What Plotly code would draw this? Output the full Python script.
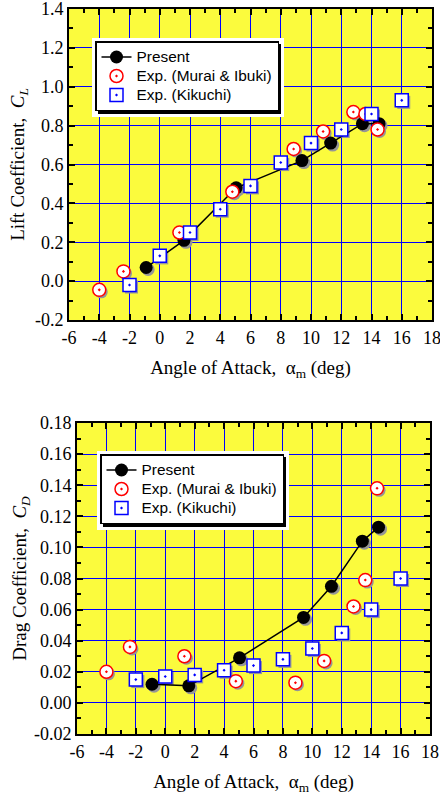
import plotly.graph_objects as go

# ---------------- data ----------------
aoa_present = [-0.9, 1.6, 5.05, 9.4, 11.3, 13.4, 14.5]
cl_present = [0.07, 0.21, 0.48, 0.62, 0.71, 0.81, 0.81]
cd_present = [0.012, 0.011, 0.029, 0.055, 0.075, 0.104, 0.113]

aoa_murai = [-4.0, -2.4, 1.3, 4.8, 8.85, 10.8, 12.8, 13.6, 14.4]
cl_murai = [-0.045, 0.05, 0.25, 0.46, 0.68, 0.77, 0.87, 0.86, 0.78]
cd_murai = [0.020, 0.036, 0.030, 0.014, 0.013, 0.027, 0.062, 0.079, 0.138]

aoa_kikuchi = [-2, 0, 2, 4, 6, 8, 10, 12, 14, 16]
cl_kikuchi = [-0.02, 0.13, 0.25, 0.37, 0.49, 0.61, 0.71, 0.78, 0.86, 0.93]
cd_kikuchi = [0.015, 0.017, 0.018, 0.021, 0.024, 0.028, 0.035, 0.045, 0.060, 0.080]

names = ["Present", "Exp. (Murai & Ibuki)", "Exp. (Kikuchi)"]

x_tickvals = [-6, -4, -2, 0, 2, 4, 6, 8, 10, 12, 14, 16, 18]
x_ticktext = ["-6", "-4", "-2", "0", "2", "4", "6", "8", "10", "12", "14", "16", "18"]
cl_tickvals = [-0.2, 0.0, 0.2, 0.4, 0.6, 0.8, 1.0, 1.2, 1.4]
cl_ticktext = ["-0.2", "0.0", "0.2", "0.4", "0.6", "0.8", "1.0", "1.2", "1.4"]
cd_tickvals = [-0.02, 0.0, 0.02, 0.04, 0.06, 0.08, 0.10, 0.12, 0.14, 0.16, 0.18]
cd_ticktext = ["-0.02", "0.00", "0.02", "0.04", "0.06", "0.08", "0.10",
               "0.12", "0.14", "0.16", "0.18"]

# ---------------- style ----------------
W, H = 440, 795
YELLOW = "#FBFB3D"
BLUE = "#0000FF"
SHADOW = "rgb(150,150,150)"
SERIF = "Liberation Serif, Times New Roman, serif"
SANS = "Liberation Sans, Arial, sans-serif"
SHIFT = 2  # px offset of marker drop shadows


def px(x):
    return x / W


def py(y):
    return 1 - y / H


def legend_label(s):
    return '<span style="font-size:15.4px">' + s.replace("&", "&amp;") + "</span>"


marker_styles = [
    dict(symbol="circle", size=13, color="black"),
    dict(symbol="circle-dot", size=13, color="white", line=dict(color="red", width=1.5)),
    dict(symbol="square-dot", size=13, color="white", line=dict(color=BLUE, width=1.5)),
]

fig = go.Figure()

# panels: shadow axes (main), visible axes (overlay), legend, data
panels = [
    ("x", "y", "x3", "y3", "legend", [cl_present, cl_murai, cl_kikuchi]),
    ("x2", "y2", "x4", "y4", "legend2", [cd_present, cd_murai, cd_kikuchi]),
]
xs = [aoa_present, aoa_murai, aoa_kikuchi]

for sx, sy, vx, vy, lg, ys in panels:
    # drop shadows (drawn on the underlying, offset axes)
    for i in range(3):
        fig.add_trace(go.Scatter(
            x=xs[i], y=ys[i], mode="markers", showlegend=False, hoverinfo="skip",
            marker=dict(symbol="square" if i == 2 else "circle", size=13,
                        color=SHADOW),
            xaxis=sx, yaxis=sy))
    # visible series
    for i in range(3):
        fig.add_trace(go.Scatter(
            x=xs[i], y=ys[i], name=legend_label(names[i]),
            mode="lines+markers" if i == 0 else "markers",
            line=dict(color="black", width=1.5),
            marker=marker_styles[i],
            xaxis=vx, yaxis=vy, legend=lg))


def axis_common(tickvals, ticktext, minor_dtick, minor_tick0):
    return dict(
        automargin=False, ticklabeloverflow="allow",
        showline=True, linecolor="black", linewidth=2, mirror="allticks",
        ticks="inside", ticklen=6, tickwidth=1.5, tickcolor="black",
        showgrid=True, gridcolor=BLUE, gridwidth=1, zeroline=False,
        tickmode="array", tickvals=tickvals, ticktext=ticktext,
        minor=dict(ticks="inside", ticklen=4, tickwidth=1.5, tickmode="linear",
                   tickcolor="black", dtick=minor_dtick, tick0=minor_tick0,
                   showgrid=False),
        tickfont=dict(family=SERIF, size=18, color="black"),
        title_font=dict(family=SERIF, size=19, color="black"),
    )


def hidden(domain, rng, anchor):
    return dict(domain=domain, range=rng, anchor=anchor, visible=False,
                automargin=False, showgrid=False, zeroline=False)


xtitle = "Angle of Attack,  α<sub>m</sub> (deg)"

legend_style = dict(xanchor="left", yanchor="top",
                    bgcolor="white", bordercolor="black", borderwidth=1.5,
                    font=dict(family=SANS, size=12, color="black"),
                    tracegroupgap=0)

# plot areas in pixels: (left, right, top, bottom)
area1 = (69, 432, 9, 320)
area2 = (77, 430, 423, 734)
x_range = [-6, 18]
cl_range = [-0.2, 1.4]
cd_range = [-0.02, 0.18]


def shifted(rng, npx, sign):
    d = (rng[1] - rng[0]) * SHIFT / npx
    return [rng[0] + sign * d, rng[1] + sign * d]


# legend boxes (left, top, right, bottom) in pixels
legend_boxes = [(95, 41, 278, 111), (100, 454, 283, 524)]

fig.update_layout(
    width=W, height=H,
    margin=dict(l=0, r=0, t=0, b=0),
    paper_bgcolor="white", plot_bgcolor=YELLOW,
    showlegend=True,
    # shadow (underlying) axes
    xaxis=hidden([px(area1[0]), px(area1[1])],
                 shifted(x_range, area1[1] - area1[0], -1), "y"),
    yaxis=hidden([py(area1[3]), py(area1[2])],
                 shifted(cl_range, area1[3] - area1[2], +1), "x"),
    xaxis2=hidden([px(area2[0]), px(area2[1])],
                  shifted(x_range, area2[1] - area2[0], -1), "y2"),
    yaxis2=hidden([py(area2[3]), py(area2[2])],
                  shifted(cd_range, area2[3] - area2[2], +1), "x2"),
    # visible axes
    xaxis3=dict(overlaying="x", anchor="y3", range=x_range,
                title=dict(text=xtitle, standoff=14),
                **axis_common(x_tickvals, x_ticktext, 1, -6)),
    yaxis3=dict(overlaying="y", anchor="x3", range=cl_range,
                title=dict(text="Lift Coefficient,  <i>C<sub>L</sub></i>", standoff=5),
                **axis_common(cl_tickvals, cl_ticktext, 0.1, 0)),
    xaxis4=dict(overlaying="x2", anchor="y4", range=x_range,
                title=dict(text=xtitle, standoff=14),
                **axis_common(x_tickvals, x_ticktext, 1, -6)),
    yaxis4=dict(overlaying="y2", anchor="x4", range=cd_range,
                title=dict(text="Drag Coefficient,  <i>C<sub>D</sub></i>", standoff=2),
                **axis_common(cd_tickvals, cd_ticktext, 0.01, 0)),
    legend=dict(x=px(legend_boxes[0][0]), y=py(legend_boxes[0][1]), **legend_style),
    legend2=dict(x=px(legend_boxes[1][0]), y=py(legend_boxes[1][1]), **legend_style),
)

# legend drop shadows / halos (paper coordinates)
for (l, t, r, b) in legend_boxes:
    fig.add_shape(type="rect", xref="paper", yref="paper",
                  x0=px(l - 3), x1=px(r + 6), y0=py(b + 6), y1=py(t - 3),
                  fillcolor="white", line=dict(width=0), layer="above")
    fig.add_shape(type="rect", xref="paper", yref="paper",
                  x0=px(l + 3), x1=px(r + 3), y0=py(b + 3), y1=py(t + 3),
                  fillcolor="black", line=dict(width=0), layer="above")

fig.write_html("out.html",
               config={"displayModeBar": False},
               post_script="document.body.style.margin='0px';document.body.style.overflow='hidden';")
